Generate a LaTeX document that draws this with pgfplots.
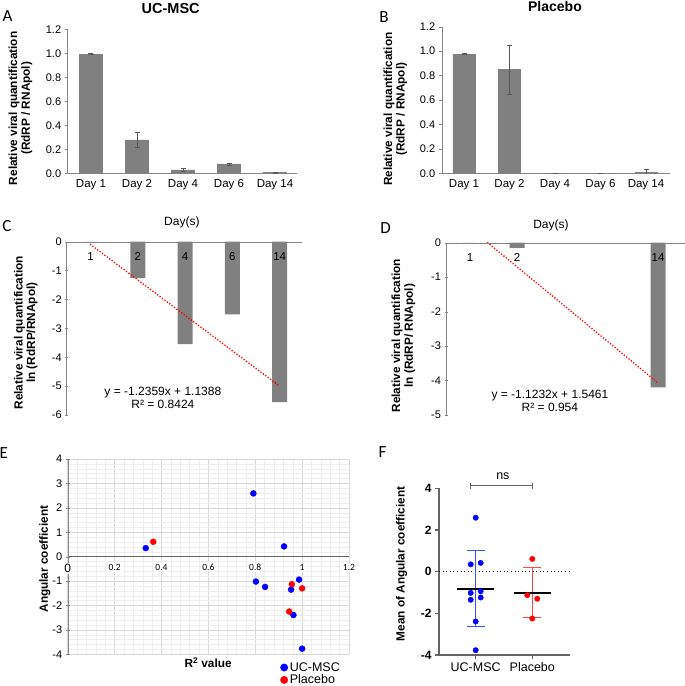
\documentclass[border=0pt]{standalone}
\usepackage{fontspec}
\setmainfont{Liberation Sans}
\newfontfamily\calibri{Carlito}
\usepackage{pgfplots}
\pgfplotsset{compat=1.18}
\definecolor{barg}{RGB}{128,128,128}
\definecolor{axg}{RGB}{134,134,134}
\definecolor{axd}{RGB}{100,100,100}
\definecolor{gmaj}{RGB}{217,217,217}
\definecolor{gmin}{RGB}{238,238,238}
\definecolor{ebblue}{RGB}{60,80,255}
\definecolor{ebred}{RGB}{255,70,70}
\definecolor{errg}{RGB}{90,90,90}
\pgfplotsset{
  panel/.style={scale only axis, anchor=south west,
    /pgf/number format/assume math mode=true,
    tick label style={font=\fontsize{11}{12}\selectfont},
    label style={font=\bfseries\fontsize{11.8}{12.6}\selectfont, align=center},
    tick align=outside},
}
\begin{document}
\begin{tikzpicture}
\useasboundingbox (0,0) rectangle (685pt,686pt);

% ---------------- Panel A ----------------
\begin{axis}[panel, at={(67.7pt,512.7pt)}, width=229.3pt, height=144pt,
  xmin=-0.5065, xmax=4.478, ymin=0, ymax=1.2,
  axis x line*=bottom, axis y line*=left, axis line style={axg,-},
  xtick={0,1,2,3,4}, xticklabels={Day 1,Day 2,Day 4,Day 6,Day 14},
  xticklabel style={font=\fontsize{11.5}{12}\selectfont},
  xtick style={draw=none},
  ytick={0,0.2,0.4,0.6,0.8,1.0,1.2},
  yticklabel style={/pgf/number format/.cd, fixed, fixed zerofill, precision=1},
  ytick style={axg}, major tick length=3pt,
  ylabel={Relative viral quantification\\(RdRP / RNApol)},
  ylabel style={at={(axis description cs:-0.206,0.451)}, anchor=center},
]
\addplot[ybar, bar width=23pt, fill=barg, draw=barg,
  error bars/.cd, y dir=both, y explicit,
  error bar style={errg, line width=0.5pt},
  error mark options={errg, line width=0.5pt, mark size=2.5pt, rotate=90}]
  coordinates {(0,0.994) +- (0,0.003) (1,0.278) +- (0,0.065) (2,0.028) +- (0,0.01) (3,0.078) +- (0,0.008) (4,0.006) +- (0,0.002)};
\end{axis}
\node[anchor=base, font=\bfseries\fontsize{14.5}{16}\selectfont] at (170.7pt,672pt) {UC-MSC};
\node[font=\calibri\fontsize{17}{17}\selectfont] at (7.5pt,670pt) {A};

% ---------------- Panel B ----------------
\begin{axis}[panel, at={(441.7pt,512.7pt)}, width=228.3pt, height=146.6pt,
  xmin=-0.49, xmax=4.527, ymin=0, ymax=1.2,
  axis x line*=bottom, axis y line*=left, axis line style={axg,-},
  xtick={0,1,2,3,4}, xticklabels={Day 1,Day 2,Day 4,Day 6,Day 14},
  xticklabel style={font=\fontsize{11.5}{12}\selectfont},
  xtick style={draw=none},
  ytick={0,0.2,0.4,0.6,0.8,1.0,1.2},
  yticklabel style={/pgf/number format/.cd, fixed, fixed zerofill, precision=1},
  ytick style={axg}, major tick length=3pt,
  ylabel={Relative viral quantification\\(RdRP / RNApol)},
  ylabel style={at={(axis description cs:-0.203,0.437)}, anchor=center},
]
\addplot[ybar, bar width=22.3pt, fill=barg, draw=barg,
  error bars/.cd, y dir=both, y explicit,
  error bar style={errg, line width=0.5pt},
  error mark options={errg, line width=0.5pt, mark size=2.5pt, rotate=90}]
  coordinates {(0,0.976) +- (0,0.003) (1,0.851) +- (0,0.2) (2,0) +- (0,0) (3,0) +- (0,0) (4,0.008) +- (0,0.025)};
\end{axis}
\node[anchor=base, font=\bfseries\fontsize{14}{16}\selectfont] at (555pt,674.3pt) {Placebo};
\node[font=\calibri\fontsize{17}{17}\selectfont] at (384pt,668.5pt) {B};

% ---------------- Panel C ----------------
\begin{axis}[panel, at={(66.7pt,271pt)}, width=235pt, height=173.3pt,
  xmin=0.497, xmax=5.465, ymin=-6, ymax=0, axis on top,
  axis x line=middle, axis y line=left, axis line style={axg,-},
  xtick={1,2,3,4,5}, xticklabels={1,2,4,6,14},
  xticklabel style={font=\fontsize{11.5}{12}\selectfont, yshift=-6pt},
  xtick style={draw=none},
  ytick={-6,-5,-4,-3,-2,-1,0}, ytick style={axg}, major tick length=3pt,
  title={Day(s)}, title style={at={(axis description cs:0.49,1.079)}, anchor=center, font=\fontsize{12}{14}\selectfont},
  ylabel={Relative viral quantification\\ln (RdRP/RNApol)},
  ylabel style={at={(axis description cs:-0.174,0.475)}, anchor=center},
]
\addplot[ybar, bar width=15pt, fill=barg, draw=none]
  coordinates {(1,0) (2,-1.25) (3,-3.55) (4,-2.52) (5,-5.55)};
\addplot[red, line width=1.8pt, line cap=round, dash pattern=on 0pt off 3pt]
  coordinates {(1,-0.0971) (5,-5.0048)};
\node[align=center, font=\fontsize{12}{13}\selectfont] at (axis cs:2.53,-5.42) {y = -1.2359x + 1.1388\\R² = 0.8424};
\end{axis}
\node[font=\calibri\fontsize{17}{17}\selectfont] at (7pt,460pt) {C};

% ---------------- Panel D ----------------
\begin{axis}[panel, at={(446pt,271pt)}, width=239pt, height=172.3pt,
  xmin=0.489, xmax=5.574, ymin=-5, ymax=0, axis on top,
  axis x line=middle, axis y line=left, axis line style={axg,-},
  xtick={1,2,3,4,5}, xticklabels={1,2,,,14},
  xticklabel style={font=\fontsize{11.5}{12}\selectfont, yshift=-6pt},
  xtick style={draw=none},
  ytick={-5,-4,-3,-2,-1,0}, ytick style={axg}, major tick length=3pt,
  title={Day(s)}, title style={at={(axis description cs:0.439,1.068)}, anchor=center, font=\fontsize{12}{14}\selectfont},
  ylabel={Relative viral quantification\\ln (RdRP/ RNApol)},
  ylabel style={at={(axis description cs:-0.178,0.46)}, anchor=center},
]
\addplot[ybar, bar width=15pt, fill=barg, draw=none]
  coordinates {(1,0) (2,-0.15) (5,-4.2)};
\addplot[red, line width=1.8pt, line cap=round, dash pattern=on 0pt off 3pt]
  coordinates {(1.376,0) (5,-4.0699)};
\node[align=center, font=\fontsize{12}{13}\selectfont] at (axis cs:2.70,-4.58) {y = -1.1232x + 1.5461\\R² = 0.954};
\end{axis}
\node[font=\calibri\fontsize{17}{17}\selectfont] at (385.5pt,458pt) {D};

% ---------------- Panel E ----------------
\begin{axis}[panel, at={(67.7pt,31.7pt)}, width=281.3pt, height=195.3pt,
  xmin=0, xmax=1.2, ymin=-4, ymax=4,
  axis x line=middle, axis y line=left, axis line style={-},
  hide obscured x ticks=false,
  x axis line style={axd}, y axis line style={axg},
  grid=both, major grid style={gmaj, line width=0.6pt}, minor grid style={gmin, line width=0.4pt},
  minor x tick num=4, minor y tick num=4, minor tick length=0pt,
  xtick={0,0.2,0.4,0.6,0.8,1,1.2},
  xticklabels={{\rmfamily\fontsize{12}{12}\selectfont 0},0.2,0.4,0.6,0.8,1,1.2},
  xticklabel style={font=\calibri\fontsize{9.5}{11}\selectfont, fill=white, inner sep=1.5pt, yshift=-4pt},
  xtick style={draw=none},
  ytick={-4,-3,-2,-1,0,1,2,3,4}, ytick style={axg}, major tick length=4pt,
  xlabel={R\textsuperscript{2} value},
  xlabel style={at={(axis description cs:0.499,-0.043)}, anchor=center, font=\bfseries\fontsize{11.8}{12.6}\selectfont},
  ylabel={Angular coefficient},
  ylabel style={at={(axis description cs:-0.081,0.488)}, anchor=center},
  legend style={at={(axis description cs:0.745,-0.02)}, anchor=north west, draw=none, fill=none,
    font=\fontsize{12.5}{14}\selectfont, row sep=-2pt},
  legend cell align=left,
  legend image code/.code={\draw[#1, mark size=3.7pt] plot coordinates {(0pt,0pt)};},
]
\addplot[only marks, mark=*, mark size=3pt, blue] coordinates {
  (0.333,0.35) (0.792,2.59) (0.923,0.42) (0.803,-1.02) (0.842,-1.24)
  (0.953,-1.35) (0.987,-0.94) (0.963,-2.39) (1.0,-3.77)};
\addlegendentry{UC-MSC}
\addplot[only marks, mark=*, mark size=3pt, red] coordinates {
  (0.365,0.61) (0.956,-1.13) (1.0,-1.30) (0.945,-2.25)};
\addlegendentry{Placebo}
\end{axis}
\node[font=\calibri\fontsize{17}{17}\selectfont] at (3.8pt,233pt) {E};

% ---------------- Panel F ----------------
\begin{axis}[panel, at={(439pt,31pt)}, width=131pt, height=166.7pt,
  xmin=0.352, xmax=2.666, ymin=-4, ymax=4, clip=false,
  axis x line*=bottom, axis y line*=left, axis line style={axd, line width=1.1pt, -},
  xtick={1,2}, xticklabels={UC-MSC,Placebo},
  xticklabel style={font=\fontsize{12.5}{14}\selectfont},
  ytick={-4,-2,0,2,4},
  yticklabel style={font=\bfseries\fontsize{12}{14}\selectfont},
  tick style={axd, line width=1.1pt}, major tick length=4pt,
  ylabel={Mean of Angular coefficient},
  ylabel style={at={(axis description cs:-0.285,0.546)}, anchor=center},
]
\addplot[black, line width=1pt, dash pattern=on 1pt off 2.6pt] coordinates {(0.352,0) (2.666,0)};
\addplot[only marks, mark=-, mark size=18.5pt, mark options={black, line width=1.8pt},
  error bars/.cd, y dir=both, y explicit,
  error bar style={ebblue, line width=1pt},
  error mark options={ebblue, line width=1pt, mark size=9pt, rotate=90}]
  coordinates {(1,-0.818) +- (0,1.81)};
\addplot[only marks, mark=-, mark size=18.5pt, mark options={black, line width=1.8pt},
  error bars/.cd, y dir=both, y explicit,
  error bar style={ebred, line width=1pt},
  error mark options={ebred, line width=1pt, mark size=9pt, rotate=90}]
  coordinates {(2,-1.0125) +- (0,1.196)};
\addplot[only marks, mark=*, mark size=2.7pt, blue] coordinates {
  (1,2.59) (0.912,0.35) (1.088,0.42) (0.912,-1.02) (1.088,-0.94)
  (0.912,-1.35) (1.088,-1.24) (1,-2.39) (1,-3.77)};
\addplot[only marks, mark=*, mark size=2.7pt, red] coordinates {
  (2,0.61) (1.912,-1.13) (2.088,-1.30) (2,-2.25)};
\draw[axd, line width=1pt] (axis cs:0.9,4.12) -- (axis cs:2.0,4.12);
\draw[axd, line width=1pt] ([yshift=-3pt]axis cs:0.9,4.12) -- ([yshift=3pt]axis cs:0.9,4.12);
\draw[axd, line width=1pt] ([yshift=-3pt]axis cs:2.0,4.12) -- ([yshift=3pt]axis cs:2.0,4.12);
\node[font=\fontsize{12.5}{14}\selectfont] at (axis cs:1.48,4.56) {ns};
\end{axis}
\node[font=\calibri\fontsize{17}{17}\selectfont] at (382.5pt,233.5pt) {F};
\end{tikzpicture}
\end{document}
